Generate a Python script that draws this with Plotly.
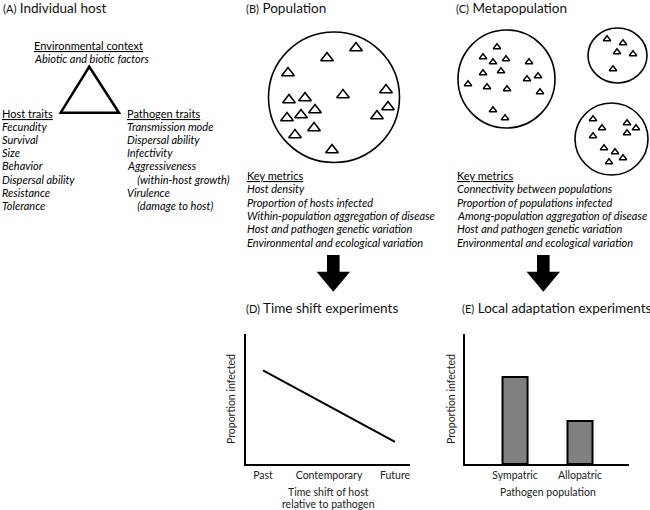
import plotly.graph_objects as go

W, H = 650, 510
FONT = "Lato"

# ---------------- data ----------------
# Panel D: time shift experiments
time_positions = [0, 1, 2]
time_labels = ["Past", "Contemporary", "Future"]
line_x = [0, 2]
line_y = [0.72, 0.17]

# Panel E: local adaptation experiments
pathogen_pos = [0, 1]
pathogen_labels = ["Sympatric", "Allopatric"]
bar_values = [0.67, 0.33]

# Panel A text
env_header = "Environmental context"
env_text = "Abiotic and biotic factors"
host_header = "Host traits"
host_traits = ["Fecundity", "Survival", "Size", "Behavior", "Dispersal ability", "Resistance", "Tolerance"]
pathogen_header = "Pathogen traits"
pathogen_traits = ["Transmission mode", "Dispersal ability", "Infectivity", "Aggressiveness",
                   "    (within-host growth)", "Virulence", "    (damage to host)"]

# Panels B / C text
metrics_header = "Key metrics"
pop_metrics = ["Host density", "Proportion of hosts infected", "Within-population aggregation of disease",
               "Host and pathogen genetic variation", "Environmental and ecological variation"]
meta_metrics = ["Connectivity between populations", "Proportion of populations infected",
                "Among-population aggregation of disease", "Host and pathogen genetic variation",
                "Environmental and ecological variation"]

# Host individuals (triangles) in population B
pop_tri_x = [356, 327, 288, 386, 343, 289, 305, 315, 388, 287, 301, 377, 314, 295, 332]
pop_tri_y = [48, 58, 73, 90, 95, 100, 98, 110, 107, 118, 115, 116, 128, 135, 150]
# Host individuals in metapopulation C
meta_tri_x = [497, 483, 493, 506, 529, 483, 501, 527, 538, 468, 487, 507, 540, 493, 505,
              607, 623, 617, 633, 613,
              593, 602, 627, 636, 593, 627, 604, 615, 623, 609]
meta_tri_y = [47, 57, 62, 59, 62, 73, 71, 79, 76, 84, 87, 89, 92, 110, 118,
              39, 43, 52, 54, 69,
              119, 128, 123, 128, 136, 133, 148, 152, 158, 162]

fig = go.Figure()

# D line
fig.add_trace(go.Scatter(x=line_x, y=line_y, mode="lines", line=dict(color="black", width=2),
                         xaxis="x", yaxis="y", showlegend=False, hoverinfo="skip"))
# E bars
fig.add_trace(go.Bar(x=pathogen_pos, y=bar_values, width=0.385,
                     marker=dict(color="#808080", line=dict(color="black", width=2)),
                     xaxis="x2", yaxis="y2", showlegend=False, hoverinfo="skip"))
# Triangles
fig.add_trace(go.Scatter(x=pop_tri_x, y=pop_tri_y, mode="markers",
                         marker=dict(symbol="triangle-up-open", size=11, color="black", line=dict(width=1.6)),
                         xaxis="x3", yaxis="y3", showlegend=False, hoverinfo="skip"))
fig.add_trace(go.Scatter(x=meta_tri_x, y=meta_tri_y, mode="markers",
                         marker=dict(symbol="triangle-up-open", size=6.5, color="black", line=dict(width=1.5)),
                         xaxis="x3", yaxis="y3", showlegend=False, hoverinfo="skip"))

annotations = []


def txt(x, y, text, size=11, italic=False, xanchor="left", angle=0, color="black"):
    annotations.append(dict(x=x, y=y, xref="x3", yref="y3", text=text, showarrow=False,
                            xanchor=xanchor, yanchor="middle", textangle=angle,
                            font=dict(family=FONT, size=size, color=color,
                                      style="italic" if italic else "normal")))


def title(x, y, letter, name):
    txt(x, y, f"<span style='font-size:11px'>({letter})</span> {name}", size=13.5, color="#111")


title(1, 8, "A", "Individual host")
title(244, 8, "B", "Population")
title(454, 8, "C", "Metapopulation")
title(244, 308, "D", "Time shift experiments")
title(460, 308, "E", "Local adaptation experiments")

# Panel A
txt(32, 45, f"<u>{env_header}</u>")
txt(32, 58, env_text, italic=True)
txt(0, 113, f"<u>{host_header}</u>")
txt(125, 113, f"<u>{pathogen_header}</u>")
host_y = [126, 139, 152, 165, 179, 192, 205]
for yy, t in zip(host_y, host_traits):
    txt(0, yy, t, italic=True)
for yy, t in zip(host_y, pathogen_traits):
    txt(125, yy, t, italic=True)

# Key metrics
metric_y = [175, 188.5, 202, 215, 228.5, 242]
txt(245, metric_y[0], f"<u>{metrics_header}</u>")
txt(455, metric_y[0], f"<u>{metrics_header}</u>")
for yy, t in zip(metric_y[1:], pop_metrics):
    txt(245, yy, t, italic=True)
for yy, t in zip(metric_y[1:], meta_metrics):
    txt(455, yy, t, italic=True)

# Axis titles for D and E
txt(231, 399, "Proportion infected", size=10.5, xanchor="center", angle=-90, color="#222")
txt(451, 399, "Proportion infected", size=10.5, xanchor="center", angle=-90, color="#222")
txt(328, 492, "Time shift of host", size=10.5, xanchor="center", color="#222")
txt(328, 504, "relative to pathogen", size=10.5, xanchor="center", color="#222")
txt(548, 492, "Pathogen population", size=10.5, xanchor="center", color="#222")

shapes = []
# Triangle in A
shapes.append(dict(type="path", path="M 89.3 66.7 L 119 112.7 L 60.7 112.7 Z", xref="x3", yref="y3",
                   line=dict(color="black", width=2.5)))
# Circles
for (x0, y0, x1, y1) in [(268.5, 32, 399.5, 162.5), (458, 30, 555, 128), (588, 28, 647, 83), (575, 103, 648, 175)]:
    shapes.append(dict(type="circle", x0=x0, y0=y0, x1=x1, y1=y1, xref="x3", yref="y3",
                       line=dict(color="black", width=1.6)))
# Arrows
for cx in [333.3, 543.3]:
    p = (f"M {cx-6.3} 255 L {cx+6.3} 255 L {cx+6.3} 271.7 L {cx+16.7} 271.7 L {cx} 291.7 "
         f"L {cx-16.7} 271.7 L {cx-6.3} 271.7 Z")
    shapes.append(dict(type="path", path=p, xref="x3", yref="y3", fillcolor="black", line=dict(width=0)))

ydom = [1 - 464 / H, 1 - 334 / H]
axis_common = dict(showgrid=False, zeroline=False, showline=True, linecolor="black", linewidth=2,
                   ticks="", fixedrange=True)

fig.update_layout(
    width=W, height=H,
    margin=dict(l=0, r=0, t=0, b=0),
    paper_bgcolor="white", plot_bgcolor="rgba(0,0,0,0)",
    font=dict(family=FONT, color="black"),
    showlegend=False,
    xaxis=dict(domain=[246 / W, 410 / W], range=[-0.258, 2.227], anchor="y",
               tickvals=time_positions, ticktext=time_labels,
               tickfont=dict(family=FONT, size=10.5, color="#222"), **axis_common),
    yaxis=dict(domain=ydom, range=[0, 1], anchor="x", showticklabels=False, **axis_common),
    xaxis2=dict(domain=[465 / W, 629 / W], range=[-0.77, 1.754], anchor="y2",
                tickvals=pathogen_pos, ticktext=pathogen_labels,
                tickfont=dict(family=FONT, size=10.5, color="#222"), **axis_common),
    yaxis2=dict(domain=ydom, range=[0, 1], anchor="x2", showticklabels=False, **axis_common),
    xaxis3=dict(domain=[0, 1], range=[0, W], anchor="y3", visible=False, fixedrange=True),
    yaxis3=dict(domain=[0, 1], range=[H, 0], anchor="x3", visible=False, fixedrange=True),
    annotations=annotations,
    shapes=shapes,
)

# remove the default 8px page margin so the 650x510 figure fills the window exactly
fig.write_html("out.html", config={"displayModeBar": False},
               post_script="document.body.style.margin='0px';")
